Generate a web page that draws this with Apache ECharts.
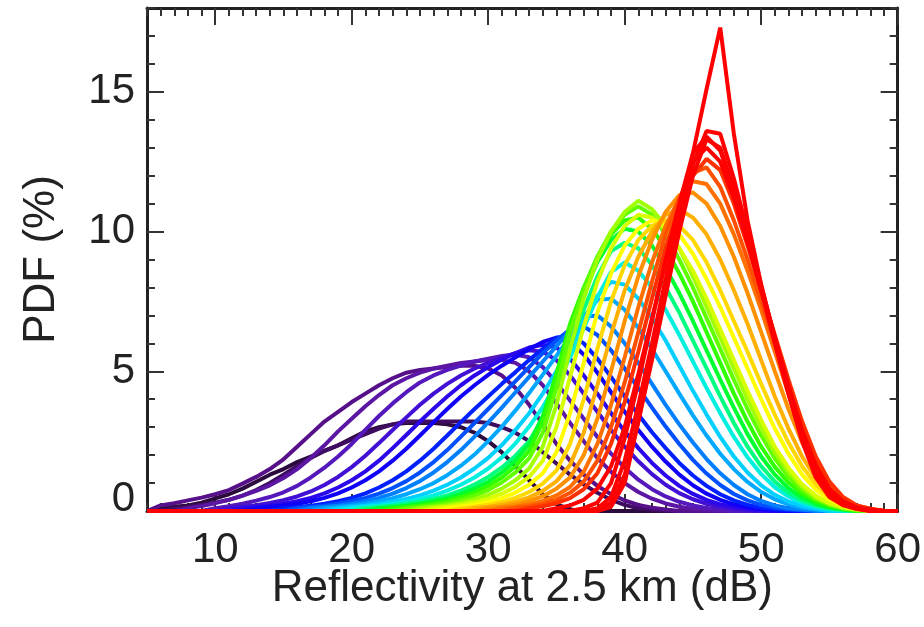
<!DOCTYPE html>
<html>
<head>
<meta charset="utf-8">
<script src="https://cdn.jsdelivr.net/npm/echarts@6/dist/echarts.min.js"></script>
<style>
  html, body { margin: 0; padding: 0; background: #ffffff; }
  #chart { width: 924px; height: 627px; }
</style>
</head>
<body>
<div id="chart"></div>
<script>
// Reflectivity bins (dB) and axis ticks
const dbRange = [5, 60];
const pdfRange = [0, 18];
const xMajorTicks = [10, 20, 30, 40, 50, 60];
const yMajorTicks = [0, 5, 10, 15];
const xTitle = 'Reflectivity at 2.5 km (dB)';
const yTitle = 'PDF (%)';

// Each PDF curve: first 1-dB bin with data, then the values (%) bin by bin; zero elsewhere.
const purpleFrom = [6, 7, 6, 8, 10];
const purplePdf = [
  [0.1,0.15,0.2,0.3,0.45,0.6,0.8,1.05,1.3,1.5,1.75,1.95,2.15,2.35,2.6,2.85,3.0,3.1,3.15,3.15,3.15,3.1,3.0,2.8,2.5,2.1,1.6,1.1,0.6,0.25,0.05],
  [0.1,0.15,0.22,0.3,0.4,0.55,0.75,1.0,1.3,1.6,1.9,2.15,2.35,2.55,2.75,2.95,3.1,3.2,3.2,3.2,3.2,3.2,3.2,3.15,3.0,2.8,2.5,2.1,1.7,1.3,0.95,0.65,0.4,0.22,0.1,0.04],
  [0.2,0.28,0.38,0.48,0.6,0.75,0.98,1.22,1.5,1.85,2.3,2.75,3.2,3.55,3.9,4.2,4.5,4.75,4.95,5.05,5.1,5.15,5.2,5.2,5.1,4.85,4.4,3.8,3.1,2.4,1.8,1.3,0.9,0.6,0.38,0.22,0.12,0.05],
  [0.1,0.18,0.28,0.4,0.55,0.72,0.92,1.18,1.5,1.9,2.35,2.85,3.3,3.75,4.15,4.5,4.75,4.95,5.1,5.2,5.3,5.35,5.4,5.4,5.3,5.0,4.5,3.85,3.15,2.5,1.9,1.4,1.0,0.68,0.44,0.27,0.15,0.08,0.04],
  [0.1,0.17,0.26,0.37,0.5,0.67,0.9,1.2,1.55,1.95,2.4,2.9,3.4,3.85,4.25,4.6,4.85,5.05,5.2,5.35,5.45,5.55,5.6,5.5,5.15,4.6,3.95,3.3,2.65,2.05,1.55,1.12,0.78,0.52,0.33,0.2,0.11,0.05]
];
const purpleColors = ['#2c0a3e', '#3e0c60', '#56108a', '#5c16a4', '#5418bc'];

const blueFrom = [11, 12, 13, 15, 16];
const bluePdf = [
  [0.1,0.15,0.21,0.29,0.39,0.52,0.7,0.93,1.22,1.57,1.98,2.43,2.9,3.35,3.8,4.2,4.55,4.85,5.1,5.3,5.5,5.65,5.75,5.7,5.4,4.85,4.2,3.55,2.9,2.3,1.78,1.32,0.94,0.64,0.42,0.26,0.15,0.08,0.04],
  [0.1,0.14,0.19,0.26,0.35,0.47,0.63,0.84,1.1,1.42,1.8,2.25,2.72,3.2,3.66,4.1,4.5,4.85,5.15,5.42,5.65,5.85,5.95,5.85,5.45,4.85,4.2,3.5,2.85,2.25,1.72,1.27,0.9,0.61,0.4,0.24,0.14,0.07,0.03],
  [0.1,0.14,0.19,0.26,0.35,0.47,0.63,0.84,1.1,1.42,1.8,2.23,2.7,3.18,3.65,4.1,4.5,4.87,5.2,5.5,5.8,6.05,6.2,6.05,5.6,4.95,4.25,3.55,2.9,2.3,1.77,1.3,0.92,0.62,0.4,0.24,0.13,0.07,0.03],
  [0.1,0.14,0.19,0.26,0.35,0.47,0.63,0.84,1.1,1.42,1.8,2.23,2.7,3.18,3.65,4.1,4.55,4.97,5.4,5.8,6.2,6.3,6.0,5.45,4.8,4.1,3.45,2.82,2.25,1.72,1.27,0.9,0.6,0.38,0.22,0.12,0.06,0.03],
  [0.1,0.14,0.19,0.26,0.35,0.47,0.62,0.82,1.07,1.38,1.75,2.18,2.66,3.15,3.65,4.15,4.65,5.15,5.65,6.1,6.5,6.6,6.3,5.75,5.1,4.4,3.7,3.02,2.4,1.83,1.34,0.93,0.61,0.38,0.22,0.12,0.06,0.03]
];
const blueColors = ['#4210d4', '#2a08ea', '#1000f8', '#0020ff', '#0050ff'];

const cyanFrom = [17, 18, 19, 20];
const cyanPdf = [
  [0.1,0.14,0.19,0.26,0.35,0.47,0.62,0.82,1.07,1.38,1.75,2.18,2.66,3.17,3.7,4.25,4.8,5.35,5.9,6.45,6.95,7.0,6.6,6.0,5.3,4.55,3.8,3.1,2.45,1.86,1.35,0.93,0.6,0.36,0.2,0.1,0.05],
  [0.1,0.14,0.19,0.26,0.35,0.46,0.6,0.78,1.0,1.28,1.62,2.02,2.5,3.02,3.6,4.22,4.88,5.55,6.25,6.95,7.55,7.6,7.2,6.55,5.8,5.0,4.2,3.42,2.7,2.05,1.5,1.04,0.68,0.42,0.24,0.12,0.05],
  [0.1,0.14,0.19,0.25,0.33,0.43,0.56,0.73,0.94,1.2,1.52,1.9,2.36,2.9,3.5,4.2,5.0,5.85,6.8,7.7,8.2,8.1,7.6,6.9,6.1,5.2,4.3,3.45,2.65,1.95,1.38,0.92,0.58,0.34,0.18,0.08],
  [0.1,0.14,0.19,0.25,0.33,0.43,0.56,0.73,0.94,1.2,1.52,1.92,2.42,3.02,3.72,4.55,5.5,6.55,7.65,8.55,8.9,8.6,8.0,7.2,6.3,5.35,4.4,3.5,2.65,1.92,1.32,0.85,0.52,0.29,0.15,0.07]
];
const cyanColors = ['#0080ff', '#00a8ff', '#00d0ff', '#00f0e0'];

const greenFrom = [21, 22, 23, 24, 25];
const greenPdf = [
  [0.1,0.14,0.19,0.25,0.33,0.43,0.56,0.73,0.95,1.22,1.56,1.98,2.5,3.3,4.5,5.9,7.2,8.4,9.3,9.6,9.4,8.8,8.0,7.1,6.1,5.1,4.1,3.15,2.3,1.6,1.05,0.65,0.37,0.19,0.09,0.04],
  [0.1,0.14,0.19,0.26,0.35,0.46,0.61,0.8,1.05,1.38,1.8,2.4,3.4,4.9,6.5,7.8,8.9,9.7,10.1,10.0,9.5,8.7,7.8,6.8,5.75,4.7,3.7,2.75,1.95,1.3,0.82,0.48,0.26,0.12,0.05],
  [0.1,0.14,0.2,0.27,0.37,0.5,0.67,0.9,1.2,1.6,2.15,3.2,4.9,6.7,8.0,9.1,9.9,10.4,10.5,10.1,9.4,8.5,7.5,6.4,5.3,4.2,3.2,2.3,1.58,1.02,0.62,0.35,0.18,0.08],
  [0.1,0.15,0.21,0.29,0.4,0.55,0.75,1.02,1.38,1.88,2.8,4.4,6.4,7.9,9.1,10.0,10.6,10.9,10.6,9.9,9.0,8.0,6.9,5.8,4.7,3.65,2.7,1.88,1.22,0.74,0.42,0.22,0.1,0.04],
  [0.1,0.15,0.21,0.3,0.42,0.58,0.8,1.1,1.52,2.3,3.8,5.8,7.6,9.0,10.0,10.7,11.1,10.8,10.2,9.4,8.4,7.3,6.2,5.1,4.0,3.0,2.1,1.4,0.86,0.48,0.25,0.11,0.05]
];
const greenColors = ['#00ff80', '#00ff30', '#30ff00', '#60ff00', '#a0ff00'];

const yellowFrom = [26, 27, 28, 29];
const yellowPdf = [
  [0.1,0.15,0.22,0.31,0.44,0.62,0.87,1.22,1.8,3.0,4.8,6.6,8.2,9.4,10.2,10.6,10.5,10.1,9.4,8.6,7.6,6.5,5.4,4.3,3.25,2.3,1.55,0.96,0.55,0.28,0.13,0.05],
  [0.1,0.15,0.22,0.32,0.46,0.66,0.94,1.35,2.1,3.5,5.3,7.1,8.5,9.5,10.1,10.4,10.3,9.9,9.2,8.3,7.3,6.2,5.1,4.0,2.95,2.05,1.3,0.76,0.4,0.19,0.08],
  [0.1,0.15,0.22,0.32,0.47,0.68,0.98,1.45,2.4,4.0,5.8,7.5,8.8,9.7,10.2,10.4,10.2,9.7,8.9,7.9,6.8,5.7,4.55,3.45,2.45,1.6,0.95,0.5,0.24,0.1,0.04],
  [0.1,0.15,0.22,0.33,0.49,0.72,1.06,1.65,2.8,4.5,6.3,7.9,9.1,10.0,10.6,10.8,10.5,9.9,9.0,7.9,6.7,5.4,4.1,2.95,1.95,1.17,0.62,0.3,0.13,0.05]
];
const yellowColors = ['#d8ff00', '#ffff00', '#ffd800', '#ffb000'];

const orangeFrom = [30, 31, 32, 33];
const orangePdf = [
  [0.1,0.15,0.23,0.35,0.53,0.8,1.2,2.0,3.3,5.0,6.8,8.4,9.7,10.7,11.3,11.4,11.0,10.2,9.1,7.8,6.4,5.0,3.65,2.45,1.48,0.8,0.38,0.16,0.06],
  [0.1,0.15,0.23,0.36,0.56,0.86,1.4,2.4,3.8,5.5,7.3,8.9,10.2,11.2,11.8,11.7,11.0,9.9,8.6,7.2,5.7,4.2,2.8,1.7,0.92,0.44,0.18,0.07],
  [0.1,0.16,0.25,0.4,0.65,1.05,1.8,3.0,4.6,6.4,8.2,9.9,11.2,12.1,12.3,11.6,10.4,9.0,7.5,6.0,4.45,3.0,1.8,0.97,0.46,0.19,0.07],
  [0.1,0.17,0.28,0.46,0.78,1.35,2.4,3.9,5.7,7.6,9.4,10.9,12.0,12.6,12.2,11.0,9.5,7.9,6.3,4.7,3.2,1.95,1.05,0.5,0.2,0.08]
];
const orangeColors = ['#ff9000', '#ff7000', '#ff5000', '#ff3000'];

const redFrom = [35, 37, 38, 38, 39];
const redPdf = [
  [0.1,0.2,0.4,0.8,1.6,3.0,4.9,6.9,8.9,10.8,12.5,13.0,12.5,11.2,9.6,7.9,6.2,4.5,2.9,1.65,0.8,0.35,0.13,0.05],
  [0.1,0.3,1.0,2.6,4.6,6.8,9.0,11.0,12.8,13.4,12.9,11.5,9.8,8.0,6.2,4.4,2.8,1.55,0.72,0.3,0.1,0.04],
  [0.1,0.5,1.8,3.8,6.0,8.3,10.5,12.4,13.6,13.5,11.9,10.0,8.1,6.2,4.3,2.6,1.35,0.6,0.25,0.09,0.03],
  [0.05,0.3,1.3,3.2,5.4,7.7,10.0,12.0,13.3,13.0,11.5,9.7,7.9,6.0,4.2,2.6,1.35,0.6,0.25,0.09],
  [0.15,1.0,3.2,5.6,8.0,10.4,12.8,15.1,17.3,13.5,10.4,8.1,6.1,4.2,2.5,1.2,0.5,0.2,0.07]
];
const redColors = ['#ff0000', '#ff0000', '#ff0000', '#ff0000', '#ff0000'];

// Drawing order: purple first, red last (on top)
const groups = [
  [purpleFrom, purplePdf, purpleColors],
  [blueFrom, bluePdf, blueColors],
  [cyanFrom, cyanPdf, cyanColors],
  [greenFrom, greenPdf, greenColors],
  [yellowFrom, yellowPdf, yellowColors],
  [orangeFrom, orangePdf, orangeColors],
  [redFrom, redPdf, redColors]
];

const FONT = '"Liberation Sans", Arial, Helvetica, sans-serif';
const INK = '#222222';
const LABEL_SIZE = 42;
const TITLE_SIZE = 44;

const series = [];
groups.forEach(([froms, pdfs, colors]) => {
  pdfs.forEach((vals, i) => {
    const data = [];
    for (let db = dbRange[0]; db <= dbRange[1]; db++) {
      const j = db - froms[i];
      data.push([db, (j >= 0 && j < vals.length) ? vals[j] : 0]);
    }
    series.push({
      type: 'line',
      data: data,
      symbol: 'none',
      showSymbol: false,
      smooth: false,
      clip: false,
      silent: true,
      animation: false,
      lineStyle: { color: colors[i], width: 4 },
      emphasis: { disabled: true }
    });
  });
});

const axisLineStyle = { color: INK, width: 3 };
const tickStyle = { color: '#333333', width: 2 };

function xAxisPair(position, withLabels) {
  return [
    {
      type: 'value', position: position, min: dbRange[0], max: dbRange[1], interval: 1,
      axisLine: { show: true, onZero: false, lineStyle: axisLineStyle },
      axisTick: { show: true, inside: true, length: 8, lineStyle: tickStyle },
      axisLabel: { show: false }, splitLine: { show: false }
    },
    {
      type: 'value', position: position, min: dbRange[0], max: dbRange[1],
      axisLine: { show: false, onZero: false },
      axisTick: { show: true, inside: true, length: 17, customValues: xMajorTicks, lineStyle: tickStyle },
      axisLabel: withLabels ? {
        show: true, customValues: xMajorTicks, margin: 18,
        color: INK, fontFamily: FONT, fontSize: LABEL_SIZE
      } : { show: false },
      splitLine: { show: false },
      name: withLabels ? xTitle : '',
      nameLocation: 'middle', nameGap: 56, nameMoveOverlap: false,
      nameTextStyle: { color: INK, fontFamily: FONT, fontSize: TITLE_SIZE }
    }
  ];
}

function yAxisPair(position, withLabels) {
  return [
    {
      type: 'value', position: position, min: pdfRange[0], max: pdfRange[1], interval: 1,
      axisLine: { show: true, onZero: false, lineStyle: axisLineStyle },
      axisTick: { show: true, inside: true, length: 8, lineStyle: tickStyle },
      axisLabel: { show: false }, splitLine: { show: false }
    },
    {
      type: 'value', position: position, min: pdfRange[0], max: pdfRange[1],
      axisLine: { show: false, onZero: false },
      axisTick: { show: true, inside: true, length: 17, customValues: yMajorTicks, lineStyle: tickStyle },
      axisLabel: withLabels ? {
        show: true, customValues: yMajorTicks, margin: 12,
        color: INK, fontFamily: FONT, fontSize: LABEL_SIZE,
        formatter: v => (v === 0 ? '{zero|0}' : String(v)),
        rich: { zero: { color: INK, fontFamily: FONT, fontSize: LABEL_SIZE, padding: [0, 0, 24, 0] } }
      } : { show: false },
      splitLine: { show: false },
      name: withLabels ? yTitle : '',
      nameLocation: 'middle', nameGap: 83, nameRotate: 90, nameMoveOverlap: false,
      nameTextStyle: { color: INK, fontFamily: FONT, fontSize: TITLE_SIZE }
    }
  ];
}

const chart = echarts.init(document.getElementById('chart'), null, { renderer: 'canvas' });
chart.setOption({
  backgroundColor: '#ffffff',
  animation: false,
  grid: { left: 147, right: 21, top: 8, bottom: 116, containLabel: false },
  xAxis: [...xAxisPair('bottom', true), ...xAxisPair('top', false)],
  yAxis: [...yAxisPair('left', true), ...yAxisPair('right', false)],
  series: series
});
</script>
</body>
</html>
